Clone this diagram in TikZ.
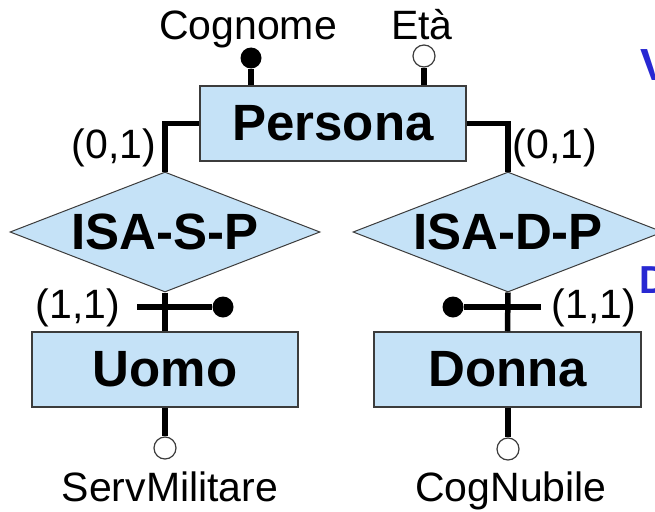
\documentclass[tikz,border=0pt]{standalone}
\usepackage{fontspec}
\setmainfont{Liberation Sans}
\usetikzlibrary{shapes.geometric}
\definecolor{erfill}{RGB}{197,226,247}
\definecolor{erline}{RGB}{60,60,60}
\definecolor{slideblue}{RGB}{40,40,210}
\begin{document}
\begin{tikzpicture}[x=1pt,y=-1pt,
  entity/.style={draw=erline, line width=1.5pt, fill=erfill, minimum width=266pt, minimum height=75pt, inner sep=0pt, font=\fontsize{51}{60}\selectfont\bfseries},
  isa/.style={diamond, draw=erline, line width=1pt, fill=erfill, minimum width=310pt, minimum height=120pt, aspect=2.58, inner sep=0pt, font=\fontsize{51}{60}\selectfont\bfseries},
  conn/.style={line width=5.5pt},
  fulldot/.style={circle, fill=black, minimum size=21pt, inner sep=0pt},
  emptydot/.style={circle, draw=erline, fill=white, line width=1.2pt, minimum size=22pt, inner sep=0pt},
  lbl/.style={font=\fontsize{41}{49}\selectfont, inner sep=0pt, anchor=base},
  cut/.style={text=slideblue, inner sep=0pt, anchor=base west},
]
\useasboundingbox (0,0) rectangle (655,511);
\clip (0,0) rectangle (655,511);
\fill[white] (0,0) rectangle (655,511);

% entities and ISA relationships
\node[entity] (persona) at (333,123.5) {Persona};
\node[isa] (isaS) at (165,232) {ISA-S-P};
\node[isa] (isaD) at (508,232) {ISA-D-P};
\node[entity] (uomo) at (165,369.5) {Uomo};
\node[entity, minimum width=267pt] (donna) at (507.5,369.5) {Donna};

% attribute markers
\node[fulldot] (cogdot) at (251,58) {};
\node[emptydot] (etacirc) at (424,56) {};
\node[emptydot] (milcirc) at (165,448) {};
\node[emptydot] (nubcirc) at (508,449) {};
\node[fulldot] (sdot) at (223,307) {};
\node[fulldot] (ddot) at (453,307) {};
\coordinate (sx) at (137,307);
\coordinate (dx) at (541,307);

% connectors
\draw[conn] (persona.west) -| (isaS.north);
\draw[conn] (persona.east) -| (isaD.north);
\draw[conn] (isaS.south) -- (uomo.north);
\draw[conn] (isaD.south) -- (donna.north);
\draw[conn] (sx) -- (sdot.west);
\draw[conn] (ddot.east) -- (dx);
\draw[conn] (cogdot.south) -- (cogdot.south |- persona.north);
\draw[conn] (etacirc.south) -- (etacirc.south |- persona.north);
\draw[conn] (uomo.south) -- (milcirc.north);
\draw[conn] (donna.south -| nubcirc) -- (nubcirc.north);

% labels
\node[lbl] (lcog) at (248,40) {Cognome};
\node[lbl] (leta) at (422,40) {Età};
\node[lbl] (lcardPS) at (114,158) {(0,1)};
\node[lbl] (lcardPD) at (555,158) {(0,1)};
\node[lbl] (lcardU) at (78,318) {(1,1)};
\node[lbl] (lcardD) at (594,318) {(1,1)};
\node[lbl] (lserv) at (170,501) {ServMilitare};
\node[lbl] (lnub) at (511,501) {CogNubile};

% slide text cut off at the right edge, as in the reference
\node[cut, font=\fontsize{45}{54}\selectfont\bfseries] (cutV) at (640,80) {V};
\node[cut, font=\fontsize{39}{47}\selectfont\bfseries] (cutD) at (639,293) {D};
\end{tikzpicture}
\end{document}
